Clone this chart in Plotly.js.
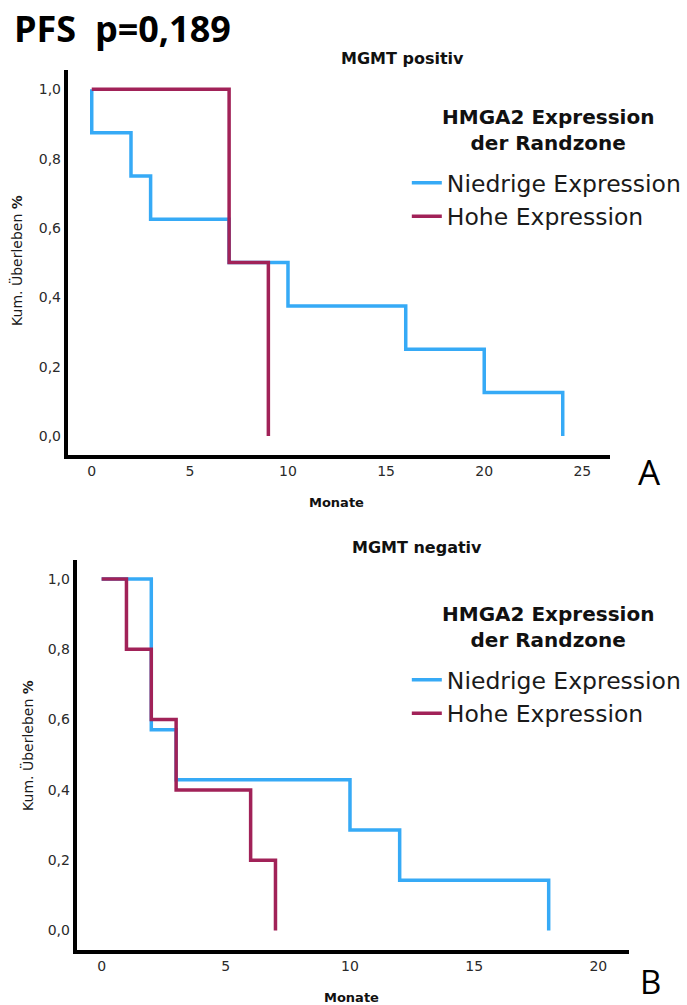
<!DOCTYPE html>
<html>
<head>
<meta charset="utf-8">
<script src="https://cdn.plot.ly/plotly-3.0.1.min.js"></script>
<style>html,body{margin:0;padding:0;background:#fff;}</style>
</head>
<body>
<div id="chart" style="width:687px;height:1005px;"></div>
<script>
// ---- Data ----
const seriesNames = ["Niedrige Expression", "Hohe Expression"];
// MGMT positiv
const posLowTime  = [0, 0, 2, 3, 7, 10, 16, 20, 24];
const posLowSurv  = [1.0, 0.875, 0.75, 0.625, 0.5, 0.375, 0.25, 0.125, 0.0];
const posHighTime = [0, 7, 9];
const posHighSurv = [1.0, 0.5, 0.0];
// MGMT negativ
const negLowTime  = [0, 2, 3, 10, 12, 18];
const negLowSurv  = [1.0, 0.571, 0.429, 0.286, 0.143, 0.0];
const negHighTime = [0, 1, 2, 3, 6, 7];
const negHighSurv = [1.0, 0.8, 0.6, 0.4, 0.2, 0.0];
// Ticks
const xTicksTop = [0, 5, 10, 15, 20, 25];
const xTicksBottom = [0, 5, 10, 15, 20];
const yTicks = [0.0, 0.2, 0.4, 0.6, 0.8, 1.0];

const W = 687, H = 1005;
const BLUE = "#36AAF6", RED = "#A12258";
const FONT = "DejaVu Sans";

function px(x) { return x / W; }
function py(y) { return 1 - y / H; }

const traces = [
  {x: posLowTime, y: posLowSurv, name: seriesNames[0], xaxis: "x", yaxis: "y", legend: "legend",
   mode: "lines", line: {shape: "hv", color: BLUE, width: 3.5}, hoverinfo: "x+y"},
  {x: posHighTime, y: posHighSurv, name: seriesNames[1], xaxis: "x", yaxis: "y", legend: "legend",
   mode: "lines", line: {shape: "hv", color: RED, width: 3.5}, hoverinfo: "x+y"},
  {x: negLowTime, y: negLowSurv, name: seriesNames[0], xaxis: "x2", yaxis: "y2", legend: "legend2",
   mode: "lines", line: {shape: "hv", color: BLUE, width: 3.5}, hoverinfo: "x+y"},
  {x: negHighTime, y: negHighSurv, name: seriesNames[1], xaxis: "x2", yaxis: "y2", legend: "legend2",
   mode: "lines", line: {shape: "hv", color: RED, width: 3.5}, hoverinfo: "x+y"}
];

const axisCommon = {
  showline: true, linecolor: "#000", linewidth: 4, showgrid: false, zeroline: false,
  ticks: "", tickfont: {family: FONT, size: 14, color: "#2a2a2a"}, fixedrange: true
};

const legendCommon = {
  xanchor: "left", yanchor: "top", bgcolor: "rgba(0,0,0,0)", borderwidth: 0,
  font: {family: FONT, size: 23.5, color: "#1a1a1a"},
  traceorder: "normal", itemclick: false, itemdoubleclick: false
};

const legendTitle = "HMGA2 Expression<br>der Randzone";
const titleFont = {family: FONT, size: 20, color: "#111", weight: "bold"};

const layout = {
  width: W, height: H,
  margin: {l: 0, r: 0, t: 0, b: 0},
  paper_bgcolor: "#fff", plot_bgcolor: "#fff",
  separators: ",.",
  showlegend: true,
  xaxis: Object.assign({}, axisCommon, {domain: [px(68), px(612)], range: [-1.22, 26.42],
    tickvals: xTicksTop, anchor: "y"}),
  yaxis: Object.assign({}, axisCommon, {domain: [py(455), py(70)], range: [-0.055, 1.0557],
    tickvals: yTicks, tickformat: ".1f", anchor: "x"}),
  xaxis2: Object.assign({}, axisCommon, {domain: [px(77), px(631)], range: [-1.0, 21.24],
    tickvals: xTicksBottom, anchor: "y2"}),
  yaxis2: Object.assign({}, axisCommon, {domain: [py(950), py(560)], range: [-0.0555, 1.054],
    tickvals: yTicks, tickformat: ".1f", anchor: "x2"}),
  legend: Object.assign({}, legendCommon, {x: px(408), y: py(161)}),
  legend2: Object.assign({}, legendCommon, {x: px(408), y: py(658)}),
  annotations: [
    {text: legendTitle, xref: "paper", yref: "paper", x: px(550), y: py(130),
     xanchor: "center", yanchor: "middle", align: "center", showarrow: false, font: titleFont},
    {text: legendTitle, xref: "paper", yref: "paper", x: px(550), y: py(627),
     xanchor: "center", yanchor: "middle", align: "center", showarrow: false, font: titleFont},
    {text: "PFS\u00a0\u00a0p=0,189", xref: "paper", yref: "paper", x: px(12), y: py(28),
     xanchor: "left", yanchor: "middle", showarrow: false,
     font: {family: "Open Sans", size: 36, color: "#000", weight: "bold"}},
    {text: "MGMT positiv", xref: "paper", yref: "paper", x: px(404), y: py(58),
     xanchor: "center", yanchor: "middle", showarrow: false,
     font: {family: FONT, size: 16, color: "#111", weight: "bold"}},
    {text: "MGMT negativ", xref: "paper", yref: "paper", x: px(418), y: py(547),
     xanchor: "center", yanchor: "middle", showarrow: false,
     font: {family: FONT, size: 16, color: "#111", weight: "bold"}},
    {text: "Monate", xref: "paper", yref: "paper", x: px(337), y: py(502),
     xanchor: "center", yanchor: "middle", showarrow: false,
     font: {family: FONT, size: 13, color: "#111", weight: "bold"}},
    {text: "Monate", xref: "paper", yref: "paper", x: px(353), y: py(997),
     xanchor: "center", yanchor: "middle", showarrow: false,
     font: {family: FONT, size: 13, color: "#111", weight: "bold"}},
    {text: "Kum. Überleben <b>%</b>", xref: "paper", yref: "paper", x: px(17), y: py(260),
     xanchor: "center", yanchor: "middle", textangle: -90, showarrow: false,
     font: {family: FONT, size: 14, color: "#1a1a1a"}},
    {text: "Kum. Überleben <b>%</b>", xref: "paper", yref: "paper", x: px(27), y: py(745),
     xanchor: "center", yanchor: "middle", textangle: -90, showarrow: false,
     font: {family: FONT, size: 14, color: "#1a1a1a"}},
    {text: "A", xref: "paper", yref: "paper", x: px(651), y: py(471),
     xanchor: "center", yanchor: "middle", showarrow: false,
     font: {family: "Open Sans", size: 35, color: "#000"}},
    {text: "B", xref: "paper", yref: "paper", x: px(652), y: py(981),
     xanchor: "center", yanchor: "middle", showarrow: false,
     font: {family: "Open Sans", size: 33, color: "#000"}}
  ]
};

Plotly.newPlot("chart", traces, layout, {displayModeBar: false});
</script>
</body>
</html>
